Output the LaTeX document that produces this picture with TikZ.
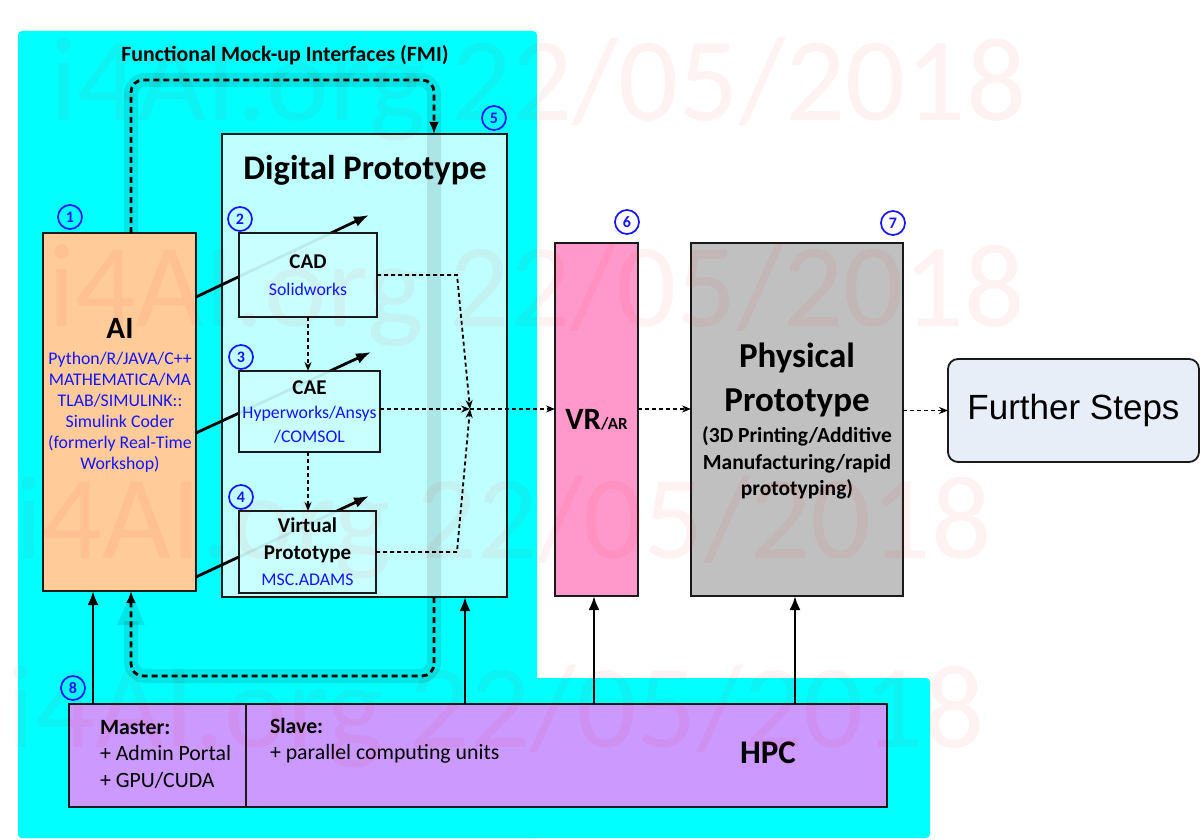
\documentclass[tikz,border=0pt]{standalone}
\usepackage{fontspec}
\setmainfont{Carlito}
\newfontfamily\arialf{Liberation Sans}
\usetikzlibrary{arrows.meta,calc}
\definecolor{bgcyan}{HTML}{00FFFF}
\definecolor{dpfill}{HTML}{BFFFFF}
\definecolor{boxfill}{HTML}{CCFFFF}
\definecolor{aifill}{HTML}{FFCC99}
\definecolor{vrfill}{HTML}{FF99CC}
\definecolor{ppfill}{HTML}{C0C0C0}
\definecolor{hpcfill}{HTML}{CC99FF}
\definecolor{fsfill}{HTML}{E8EEF8}
\definecolor{txtblue}{HTML}{1414FF}
\definecolor{edge}{HTML}{1A1A1A}
\newcommand{\fsz}[2]{\fontsize{#1}{#2}\selectfont}
\newcommand{\bt}[1]{\textcolor{txtblue}{#1}}
\begin{document}
\begin{tikzpicture}[x=1pt,y=-1pt,
  every node/.style={inner sep=0pt,outer sep=0pt},
  box/.style={rectangle,draw=edge,line width=1.8pt,align=center},
  innerbox/.style={box,fill=boxfill,fill opacity=0.92,text opacity=1,draw opacity=1},
  circnum/.style={circle,draw=txtblue,line width=1.7pt,text=txtblue,minimum size=24pt,font=\bfseries\fsz{16}{16}},
  solidarrow/.style={draw=black,line width=2.6pt,-{Latex[length=14pt,width=11pt]}},
  aiarrow/.style={draw=black,line width=2.8pt,-{Latex[length=15pt,width=11pt]}},
  dasharrow/.style={draw=black,line width=1.8pt,dash pattern=on 4pt off 3pt,-{Stealth[length=9pt,width=7pt]}},
  fmiarrow/.style={draw=black,line width=2.8pt,dash pattern=on 6pt off 4pt,rounded corners=12pt,-{Latex[length=12pt,width=10pt]}},
  halo/.style={draw=black,draw opacity=0.1,line width=14pt,rounded corners=14pt},
  wmark/.style={text=red,text opacity=0.05,font=\fsz{119}{119},anchor=base west}
]
\useasboundingbox (0,0) rectangle (1200,840);
% background
\fill[bgcyan,rounded corners=4pt] (18,31) rectangle (537,838);
\fill[bgcyan,rounded corners=4pt] (18,678) rectangle (930,838);

\node[font=\bfseries\fsz{21.8}{26}] (fmi) at (285,55) {Functional Mock-up Interfaces (FMI)};

% digital prototype
\node[box,fill=dpfill,minimum width=285pt,minimum height=463pt] (dp) at (364.5,365.5) {};
\node[font=\bfseries\fsz{34.5}{40}] (dptitle) at (365,170) {Digital Prototype};

% AI
\node[box,fill=aifill,minimum width=153pt,minimum height=358pt] (ai) at (119.5,412) {};
\node[font=\bfseries\fsz{31}{36}] (aititle) at (120,328) {AI};
\node[align=center,font=\fsz{17.8}{21}] (aibody) at (120,412) {\bt{Python/R/JAVA/C++}\\\bt{MATHEMATICA/MA}\\\bt{TLAB/SIMULINK::}\\\bt{Simulink Coder}\\\bt{(formerly Real-Time}\\\bt{Workshop)}};

% FMI loop helpers
\coordinate (fmiL) at (131,0);
\coordinate (fmiR) at (434,0);
\coordinate (fmiT) at (0,80);
\coordinate (fmiB) at (0,676);
\draw[halo] (ai.north -| fmiL) -- (fmiL |- fmiT) -- (fmiR |- fmiT) -- (fmiR |- fmiB) -- (fmiL |- fmiB) -- ([yshift=-30pt]ai.south -| fmiL);
\fill[black,opacity=0.1] ([yshift=-2pt]ai.south -| fmiL) -- ++(-14,32) -- ++(28,0) -- cycle;

% AI -> tool arrows (under semi-transparent boxes)
\coordinate (t1) at (369,215);
\coordinate (t2) at (371,352);
\coordinate (t3) at (369,496);
\draw[aiarrow] ($(ai.north east)+(0,64)$) -- (t1);
\draw[aiarrow] ($(ai.north east)+(0,200)$) -- (t2);
\draw[aiarrow] ($(ai.north east)+(0,344)$) -- (t3);

% inner boxes
\node[innerbox,font=\fsz{17.8}{27},minimum width=138pt,minimum height=84pt] (cad) at (308,275)
  {\textbf{\fsz{21}{27}CAD}\\\bt{Solidworks}};
\node[innerbox,font=\fsz{17.8}{24},minimum width=141pt,minimum height=81pt] (cae) at (309.5,411.5)
  {\textbf{\fsz{21}{24}CAE}\\\bt{Hyperworks/Ansys}\\\bt{/COMSOL}};
\node[innerbox,font=\fsz{17.8}{26.5},minimum width=137pt,minimum height=82pt] (vp) at (307.5,552)
  {\textbf{\fsz{21}{26}Virtual}\\\textbf{\fsz{21}{26}Prototype}\\\bt{MSC.ADAMS}};

% VR, physical, further steps
\node[box,fill=vrfill,minimum width=83pt,minimum height=353pt] (vr) at (596.5,419.5)
  {\textbf{\fsz{31}{34}VR}\textbf{\fsz{17}{20}/AR}};
\node[box,fill=ppfill,minimum width=212pt,minimum height=353pt] (pp) at (797,419.5) {};
\node[font=\bfseries\fsz{21.5}{26.5},align=center] (pptxt) at (797,421)
  {{\fsz{35}{40}Physical}\\[15pt]{\fsz{35}{40}Prototype}\\[5pt](3D Printing/Additive\\Manufacturing/rapid\\prototyping)};
\node[box,fill=fsfill,rounded corners=10pt,minimum width=251pt,minimum height=103pt] (fs) at (1073.5,410.5)
  {\arialf\fsz{35}{40}Further Steps};

% HPC
\node[box,fill=hpcfill,minimum width=818pt,minimum height=103pt] (hpc) at (478,755.5) {};
\draw[edge,line width=1.8pt] ($(hpc.north west)+(177,0)$) -- ($(hpc.south west)+(177,0)$);
\node[anchor=west,align=left,font=\fsz{21.8}{26.5}] (master) at (100,754) {\textbf{Master:}\\+ Admin Portal\\+ GPU/CUDA};
\node[anchor=west,align=left,font=\fsz{21.8}{26.5}] (slave) at (270,740.5) {\textbf{Slave:}\\+ parallel computing units};
\node[font=\bfseries\fsz{33}{40}] (hpct) at (768,753) {HPC};

% circled numbers
\node[circnum] (n1) at (70,217) {1};
\node[circnum] (n2) at (240,219) {2};
\node[circnum] (n3) at (241,357) {3};
\node[circnum] (n4) at (241,497) {4};
\node[circnum] (n5) at (494,118) {5};
\node[circnum] (n6) at (627,222) {6};
\node[circnum] (n7) at (893,223) {7};
\node[circnum] (n8) at (73,688) {8};

% FMI dashed connectors
\draw[fmiarrow] (ai.north -| fmiL) -- (fmiL |- fmiT) -- (fmiR |- fmiT) -- (dp.north -| fmiR);
\draw[fmiarrow] (dp.south -| fmiR) -- (fmiR |- fmiB) -- (fmiL |- fmiB) -- (ai.south -| fmiL);

% dashed flow inside DP
\coordinate (bendx) at (457,0);
\coordinate (m) at (470,409);
\draw[dasharrow] (cad.east) -- (cad.east -| bendx) -- (m);
\draw[dasharrow] (cae.east |- m) -- (m);
\draw[dasharrow] (vp.east) -- (vp.east -| bendx) -- (m);
\draw[dasharrow] (cad.south) -- (cad.south |- cae.north);
\draw[dasharrow] (cae.south -| cad.south) -- (cad.south |- vp.north);
\draw[dasharrow] (m) -- (m -| vr.west);
\draw[dasharrow] (vr.east |- m) -- (m -| pp.west);
\draw[dasharrow] (pp.east |- fs.west) -- (fs.west);

% HPC arrows
\coordinate (hx1) at (93,0);
\coordinate (hx2) at (465,0);
\coordinate (hx3) at (594,0);
\coordinate (hx4) at (795,0);
\draw[solidarrow] (hpc.north -| hx1) -- (ai.south -| hx1);
\draw[solidarrow] (hpc.north -| hx2) -- (dp.south -| hx2);
\draw[solidarrow] (hpc.north -| hx3) -- (vr.south -| hx3);
\draw[solidarrow] (hpc.north -| hx4) -- (pp.south -| hx4);

% watermark
\node[wmark] (wm1) at (50,121) {i4AI.org 22/05/2018};
\node[wmark] (wm2) at (48,326) {i4AI.org 22/05/2018};
\node[wmark] (wm3) at (15,558) {i4AI.org 22/05/2018};
\node[wmark] (wm4) at (8,747) {i4AI.org 22/05/2018};
\end{tikzpicture}
\end{document}
